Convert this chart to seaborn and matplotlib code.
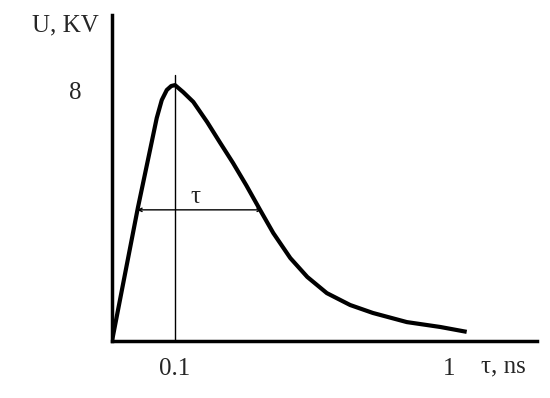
import numpy as np
import pandas as pd
import seaborn as sns
import matplotlib.pyplot as plt

# pulse shape (time in ns-ish schematic units, voltage in kV)
t_ns = [0.0, 0.041, 0.052, 0.063, 0.071, 0.079, 0.087, 0.094, 0.100, 0.113,
        0.129, 0.151, 0.171, 0.192, 0.213, 0.235, 0.256, 0.283, 0.310, 0.341,
        0.378, 0.414, 0.468, 0.521, 0.563]
u_kv = [0.0, 4.36, 5.44, 6.52, 7.31, 7.90, 8.23, 8.36, 8.39, 8.16,
        7.84, 7.18, 6.52, 5.84, 5.11, 4.30, 3.54, 2.72, 2.10, 1.57,
        1.18, 0.92, 0.62, 0.46, 0.30]

x_ticks = [0.1, 0.535]
x_tick_labels = ["0.1", "1"]
y_ticks = [8.2]
y_tick_labels = ["8"]

peak_t = 0.1
peak_line_top = 8.72
width_level = 4.30
width_start = 0.040
width_end = 0.238

sns.set_style("white")
plt.rcParams['font.family'] = ['Liberation Serif', 'DejaVu Serif']

fig = plt.figure(figsize=(5.5, 3.98), dpi=100)
ax = fig.add_axes([112 / 550, 57 / 398, 425 / 550, 326 / 398])

df = pd.DataFrame({"t": t_ns, "u": u_kv})
sns.lineplot(data=df, x="t", y="u", ax=ax, color="black", linewidth=3.0,
             sort=False, estimator=None, solid_joinstyle="round",
             solid_capstyle="butt")

ax.plot([peak_t, peak_t], [0, peak_line_top], color="black", linewidth=1.0)
ax.annotate("", xy=(width_start, width_level), xytext=(width_end, width_level),
            arrowprops=dict(arrowstyle="<->", color="black", lw=1.0,
                            mutation_scale=6, shrinkA=0, shrinkB=0))
ax.text(0.124, 4.72, "τ", fontsize=18, ha="left", va="center")

ax.set_xlim(0, 425 / 630)
ax.set_ylim(0, 326 / 30.5)
ax.set_xticks(x_ticks, x_tick_labels, fontsize=18)
ax.set_yticks(y_ticks, y_tick_labels, fontsize=18)
ax.tick_params(axis="x", length=0, pad=12)
ax.tick_params(axis="y", length=0, pad=22)
ax.set_xlabel("")
ax.set_ylabel("")

for side in ["top", "right"]:
    ax.spines[side].set_visible(False)
for side in ["left", "bottom"]:
    ax.spines[side].set_color("black")
    ax.spines[side].set_linewidth(2.5)

fig.text(32 / 550, 1 - 25 / 398, "U, KV", fontsize=18, ha="left", va="center")
fig.text(481 / 550, 1 - 366 / 398, "τ, ns", fontsize=18, ha="left", va="center")

fig.savefig("out.png", dpi=100)
